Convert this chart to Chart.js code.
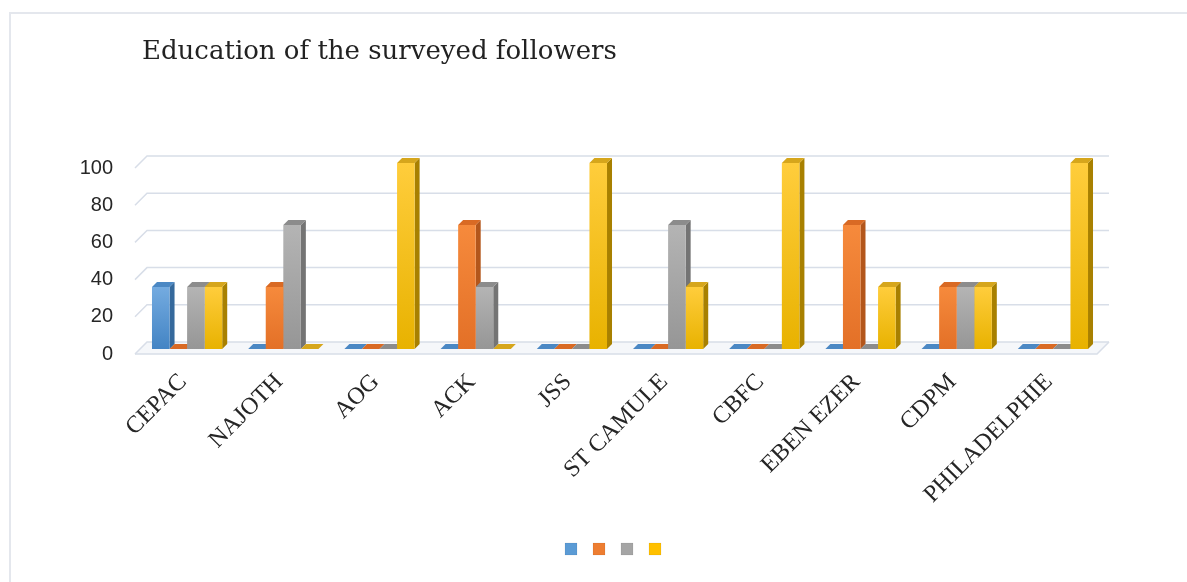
<!DOCTYPE html>
<html lang="en">
  <head>
    <meta charset="UTF-8">
    <title>Education of the surveyed followers</title>
    <style>
      body { margin: 0; background: #fff; overflow: hidden; }
      #frame { position: absolute; left: 9px; top: 12px; width: 1300px; height: 700px; border-top: 2px solid #e4e7ed; border-left: 2px solid #e4e7ed; }
      #title { position: absolute; left: 142px; top: 35px; font: 26px "DejaVu Serif", serif; color: #222; white-space: nowrap; }
      #myChart { position: absolute; left: 0; top: 0; }
    </style>
    <script src="https://cdn.jsdelivr.net/npm/chart.js"></script>
  </head>

  <body>
    <div id="frame"></div>
    <canvas id="myChart" width="1187" height="582"></canvas>
    <div id="title">Education of the surveyed followers</div>

<script>
  const churches = ['CEPAC', 'NAJOTH', 'AOG', 'ACK', 'JSS', 'ST CAMULE', 'CBFC', 'EBEN EZER', 'CDPM', 'PHILADELPHIE'];

  // four unnamed series (blue, orange, gray, yellow), in percent
  const blueValues   = [33.33, 0,     0,   0,     0,   0,     0,   0,     0,     0];
  const orangeValues = [0,     33.33, 0,   66.67, 0,   0,     0,   66.67, 33.33, 0];
  const grayValues   = [33.33, 66.67, 0,   33.33, 0,   66.67, 0,   0,     33.33, 0];
  const yellowValues = [33.33, 0,     100, 0,     100, 33.33, 100, 33.33, 33.33, 100];

  const yTicks = [0, 20, 40, 60, 80, 100];

  // styles
  const baseColors  = ['#5b9bd5', '#ed7d31', '#a5a5a5', '#ffc000'];
  const lightColors = ['#74abe0', '#f68a3c', '#b4b4b4', '#ffcd3c'];
  const darkColors  = ['#4384c4', '#e37027', '#969696', '#e8b200'];
  const sideColors  = ['#35699c', '#b3561b', '#747474', '#a88000'];
  const topColors   = ['#4b88c4', '#d96a24', '#8c8c8c', '#d6a61c'];

  const depth = 5;              // bar depth
  const shift = {x: 4, y: -5};  // bars sit a bit behind the axis plane
  const wall = 12;              // back wall offset

  function frontFill(i) {
    return (ctx) => {
      const chart = ctx.chart;
      if (!chart.chartArea || ctx.type !== 'data' || !ctx.parsed) return baseColors[i];
      const ys = chart.scales.y;
      const top = ys.getPixelForValue(ctx.parsed.y);
      const bottom = ys.getPixelForValue(0);
      if (bottom - top < 1) return baseColors[i];
      const g = chart.ctx.createLinearGradient(0, top, 0, bottom);
      g.addColorStop(0, lightColors[i]);
      g.addColorStop(1, darkColors[i]);
      return g;
    };
  }

  const box3d = {
    id: 'box3d',
    beforeDatasetsDraw(chart) {
      const c = chart.ctx;
      const ys = chart.scales.y;
      const {left, right} = chart.chartArea;
      const y0 = ys.getPixelForValue(0);

      // floor and back wall grid
      c.save();
      c.fillStyle = '#f5f7fa';
      c.beginPath();
      c.moveTo(left, y0);
      c.lineTo(right, y0);
      c.lineTo(right + wall, y0 - wall);
      c.lineTo(left + wall, y0 - wall);
      c.closePath();
      c.fill();
      c.strokeStyle = '#d8dee8';
      c.lineWidth = 1.5;
      yTicks.forEach(v => {
        const py = ys.getPixelForValue(v);
        c.beginPath();
        c.moveTo(left, py);
        c.lineTo(left + wall, py - wall);
        c.lineTo(right + wall, py - wall);
        c.stroke();
      });
      c.beginPath();
      c.moveTo(left, y0);
      c.lineTo(right, y0);
      c.lineTo(right + wall, y0 - wall);
      c.stroke();
      c.restore();

      // side and top faces, left to right; fronts get drawn over them
      c.save();
      c.translate(shift.x, shift.y);
      const metas = chart.getSortedVisibleDatasetMetas();
      for (let i = 0; i < churches.length; i++) {
        metas.forEach(meta => {
          const bar = meta.data[i];
          if (!bar) return;
          const {x, y, base, width} = bar.getProps(['x', 'y', 'base', 'width'], true);
          const l = x - width / 2, r = x + width / 2;
          c.fillStyle = sideColors[meta.index];
          c.beginPath();
          c.moveTo(r, y);
          c.lineTo(r + depth, y - depth);
          c.lineTo(r + depth, base - depth);
          c.lineTo(r, base);
          c.closePath();
          c.fill();
          c.fillStyle = topColors[meta.index];
          c.beginPath();
          c.moveTo(l, y);
          c.lineTo(r, y);
          c.lineTo(r + depth, y - depth);
          c.lineTo(l + depth, y - depth);
          c.closePath();
          c.fill();
        });
      }
    },
    afterDatasetsDraw(chart) {
      chart.ctx.restore();
    }
  };

  const seriesValues = [blueValues, orangeValues, grayValues, yellowValues];

  const ctx = document.getElementById('myChart');

  const chart = new Chart(ctx, {
    type: 'bar',
    data: {
      labels: churches,
      datasets: seriesValues.map((vals, i) => ({
        label: '',
        data: vals,
        backgroundColor: frontFill(i),
        borderWidth: 0,
        categoryPercentage: 0.73,
        barPercentage: 1.0,
        clip: false,
      })),
    },
    options: {
      responsive: false,
      animation: false,
      layout: {
        padding: {left: 78, right: 90, top: 168, bottom: 17},
      },
      plugins: {
        tooltip: {enabled: false},
        legend: {
          position: 'bottom',
          fullSize: false,
          maxWidth: 936,
          labels: {
            boxWidth: 12,
            boxHeight: 12,
            padding: 10,
            font: {size: 12},
            generateLabels: () => baseColors.map((col, i) => ({
              text: '',
              fillStyle: col,
              strokeStyle: 'rgba(0,0,0,0.06)',
              lineWidth: 1,
              hidden: false,
              datasetIndex: i,
            })),
          },
        },
      },
      scales: {
        x: {
          grid: {display: false, drawTicks: false},
          border: {display: false},
          ticks: {
            autoSkip: false,
            minRotation: 45,
            maxRotation: 45,
            padding: 14,
            color: '#262626',
            font: {family: 'Liberation Serif', size: 24},
          },
          afterFit: (scale) => { scale.height = 179; },
        },
        y: {
          min: 0,
          max: 100,
          grid: {display: false, drawTicks: false},
          border: {display: false},
          ticks: {
            stepSize: 20,
            padding: 22,
            color: '#262626',
            font: {family: 'Liberation Sans', size: 20},
          },
          afterFit: (scale) => { scale.width = 57; },
        },
      },
    },
    plugins: [box3d],
  });
</script>

  </body>
</html>
